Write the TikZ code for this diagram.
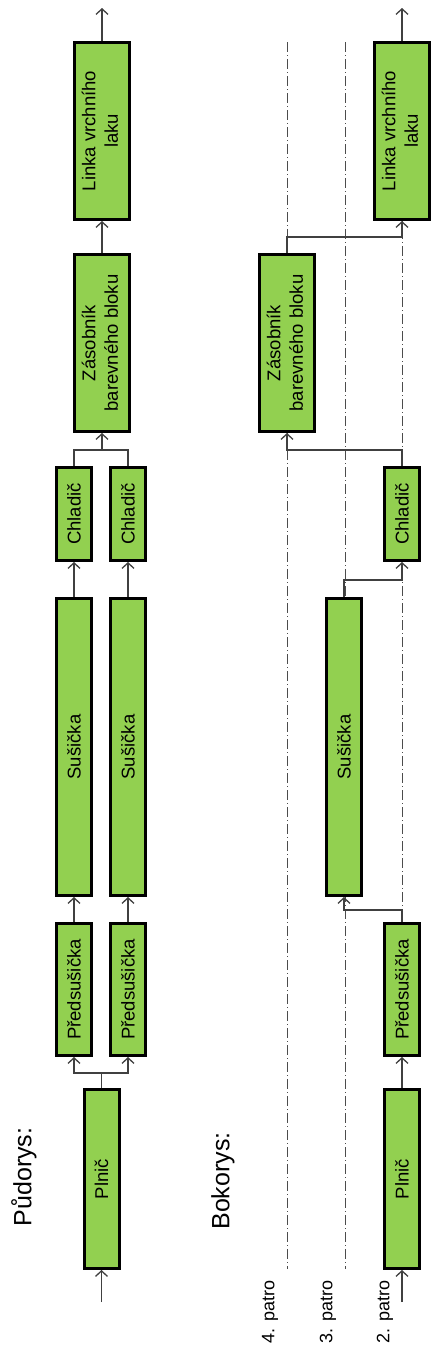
\documentclass[tikz,border=0pt]{standalone}
\usepackage{fontspec}
\setmainfont{Liberation Sans}
\usetikzlibrary{arrows.meta}
\definecolor{boxgreen}{HTML}{92D050}
\definecolor{conncol}{HTML}{404040}
\newcommand\rot[1]{\rotatebox{90}{#1}}
\newcommand\two[2]{\rotatebox{90}{\begin{tabular}{@{}c@{}}#1\\#2\end{tabular}}}
\tikzset{
  x=1pt, y=-1pt,
  box/.style={draw=black, line width=3pt, fill=boxgreen, inner sep=0pt,
    font=\fontsize{18.5}{22.5}\selectfont},
  narrowbox/.style={box, minimum width=35pt},
  widebox/.style={box, minimum width=55pt, minimum height=177pt},
  conn/.style={draw=conncol, line width=1.3pt},
  arr/.style={conn, -{Straight Barb[length=5.5pt,width=12pt]}},
  patroline/.style={draw=gray!60!black, line width=1pt, dash pattern=on 10pt off 3pt on 1pt off 3pt},
  title/.style={font=\fontsize{25}{30}\selectfont, rotate=90, inner sep=0pt},
  patrolabel/.style={font=\fontsize{18}{22}\selectfont, rotate=90, inner sep=0pt}
}
\begin{document}
\begin{tikzpicture}
\useasboundingbox (0,0) rectangle (436,1358);
% floor lines
\draw[patroline] (287,42) -- (287,1269);
\draw[patroline] (345,42) -- (345,1269);
\draw[patroline] (402,42) -- (402,1269);
% titles
\node[title] (t1) at (24,1177) {Půdorys:};
\node[title] (t2) at (223,1181) {Bokorys:};
\node[patrolabel] (p4) at (270,1312) {4. patro};
\node[patrolabel] (p3) at (328,1312) {3. patro};
\node[patrolabel] (p2) at (385,1312) {2. patro};
% left column
\node[narrowbox, minimum height=179pt] (P1) at (101.5,1179) {\rot{Plnič}};
\node[narrowbox, minimum height=132pt] (PS1a) at (74,989.5) {\rot{Předsušička}};
\node[narrowbox, minimum height=132pt] (PS1b) at (128,989.5) {\rot{Předsušička}};
\node[narrowbox, minimum height=297pt] (S1a) at (74,747) {\rot{Sušička}};
\node[narrowbox, minimum height=297pt] (S1b) at (128,747) {\rot{Sušička}};
\node[narrowbox, minimum height=93pt] (C1a) at (74,514) {\rot{Chladič}};
\node[narrowbox, minimum height=93pt] (C1b) at (128,514) {\rot{Chladič}};
\node[widebox] (Z1) at (102,343) {\two{Zásobník}{barevného bloku}};
\node[widebox] (L1) at (102,131) {\two{Linka vrchního}{laku}};
% right column
\node[narrowbox, minimum height=179pt] (P2) at (402,1179) {\rot{Plnič}};
\node[narrowbox, minimum height=132pt] (PS2) at (402,989.5) {\rot{Předsušička}};
\node[narrowbox, minimum height=297pt] (S2) at (344,747) {\rot{Sušička}};
\node[narrowbox, minimum height=93pt] (C2) at (402,514) {\rot{Chladič}};
\node[widebox] (Z2) at (287,343) {\two{Zásobník}{barevného bloku}};
\node[widebox] (L2) at (402,131) {\two{Linka vrchního}{laku}};
% left connectors
\coordinate (in1) at (101.5,1302);
\coordinate (j1) at (101.5,1073);
\coordinate (j2) at (102,450);
\coordinate (out1) at (102,8);
\draw[arr] (in1) -- (P1.south);
\draw[conn] (P1.north) -- (j1);
\draw[arr] (j1) -| (PS1a.south);
\draw[arr] (j1) -| (PS1b.south);
\draw[arr] (PS1a.north) -- (S1a.south);
\draw[arr] (PS1b.north) -- (S1b.south);
\draw[arr] (S1a.north) -- (C1a.south);
\draw[arr] (S1b.north) -- (C1b.south);
\draw[conn] (C1a.north) |- (j2);
\draw[conn] (C1b.north) |- (j2);
\draw[arr] (j2) -- (Z1.south);
\draw[arr] (Z1.north) -- (L1.south);
\draw[arr] (L1.north) -- (out1);
% right connectors
\coordinate (in2) at (402,1302);
\coordinate (k1) at (402,910);
\coordinate (k2) at (344,580);
\coordinate (k3) at (402,450);
\coordinate (k4) at (287,237);
\coordinate (out2) at (402,8);
\draw[arr] (in2) -- (P2.south);
\draw[arr] (P2.north) -- (PS2.south);
\draw[arr] (PS2.north) -- (k1) -| (S2.south);
\draw[arr] (S2.north) -- (k2) -| (C2.south);
\draw[arr] (C2.north) -- (k3) -| (Z2.south);
\draw[arr] (Z2.north) -- (k4) -| (L2.south);
\draw[arr] (L2.north) -- (out2);
\end{tikzpicture}
\end{document}
